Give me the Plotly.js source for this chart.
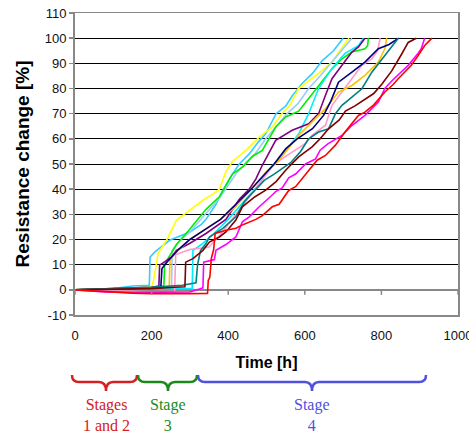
<!DOCTYPE html>
<html><head><meta charset="utf-8">
<script src="https://cdn.plot.ly/plotly-3.0.1.min.js"></script>
<style>html,body{margin:0;padding:0;background:#fff}</style>
</head><body><div id="chart" style="width:469px;height:435px"></div>
<script>
const xTicks=[0,200,400,600,800,1000];
const yTicks=[-10,0,10,20,30,40,50,60,70,80,90,100,110];

const redH=[0,50,100,150,200,250,300,346,348,352,356,362,366,394,420,440,472,489,515,533,558,576,602,619,632,654,680,705,740,757,780,809,830,844,860,878,896,913,932];
const redY=[0,-0.5,-1,-1.3,-1.5,-1.6,-1.5,-1.4,3.8,5,12.5,16,22.4,23.7,24.5,26,28,29.5,33,34,39.5,41,46,49,51.5,53.4,57.5,62.7,69.3,70.6,73.5,78.6,81.5,83.9,86.5,89.2,93.1,97.1,100];
const magentaH=[0,80,150,250,300,325,334,336,364,368,394,420,437,455,481,510,524,541,558,576,602,628,640,660,697,723,757,792,809,827,844,870,896,904,913];
const magentaY=[0,-0.8,-1,-1,-0.8,0.3,0.8,11,12,15.7,18,21,27,29,33,37,39,40.5,44.5,46,50,52,55.5,58,61.4,65.3,69.3,74.6,80,83,85.5,89.2,94,95.8,100];
const brownH=[0,100,200,260,287,289,308,334,351,377,394,420,437,470,498,525,550,584,619,640,662,690,706,730,749,780,801,827,853,870,891];
const brownY=[0,0.2,0.5,1,1.2,11,12.4,15.7,19,21,23,27.7,33,37,39.6,43,47.5,52.8,56.8,60,64,67.5,71,73,75,78,81.7,87,93.7,98.3,100];
const tealH=[0,100,200,280,316,320,328,342,351,386,420,442,470,494,520,545,563,589,610,636,662,680,697,723,749,775,809,835,844];
const tealY=[0,0.5,1,1.8,2.8,10,15.7,18.4,21,24.4,29,35,39.5,43.5,46,48.5,50.5,55,60,62.7,64,70,73.3,76.6,79.9,86.5,93.1,98.4,100];
const navyH=[0,100,200,224,227,240,270,300,340,380,420,460,490,520,550,580,620,649,668,688,723,757,792,820,845];
const navyY=[0,0.3,0.5,0.8,8.5,11,16,20,24,28,34,40,45,50,56,60,64,69.3,75,82.5,86.5,90.5,95.8,97.5,100];
const orangeH=[0,100,200,246,248,265,300,340,380,420,460,500,530,560,584,619,654,688,723,757,792,809,814];
const orangeY=[0,0.3,0.8,1,11.8,15,20,24,28,33,40,47,51,57,61.4,66.7,72,78.6,81.2,85.2,90.5,95.8,100];
const pinkH=[0,100,200,260,263,300,350,380,420,460,490,520,560,600,619,654,671,697,723,749,775,790,797];
const pinkY=[0,-0.5,-0.8,-0.6,14,16,17,22,30,38,44,50,54,58,61.4,65.4,73.3,78.6,83.9,89.2,91.8,95,100];
const purpleH=[0,100,200,219,221,234,252,265,299,342,394,429,455,472,489,524,567,610,636,654,671,697,723,740,757];
const purpleY=[0,0.5,1,1.5,9.8,11.1,13.1,15.7,18.4,22.4,28,36,40,44,49.5,59.4,63.4,66,70,77.3,83.9,89.2,94.5,96.5,100];
const cyanH=[0,100,200,306,308,330,360,400,440,481,502,520,550,584,610,636,671,705,740,753];
const cyanY=[0,0.3,0.5,0.5,15.7,18,22,28,35,42,47,50,55,62,70,80,88,94,97,100];
const greenH=[0,100,200,232,234,245,265,299,342,377,411,440,463,489,524,550,584,610,636,671,697,723,757,764,766];
const greenY=[0,0.5,1,1.5,10,13,18,24,32,37,46,49,53,55.4,64.7,68.7,71,76,81.2,87.8,91.8,94.5,95.8,97,100];
const paleBlueH=[0,100,200,252,254,270,300,340,380,420,442,470,498,526,554,582,610,640,667,695,723];
const paleBlueY=[0,0.3,0.8,1,15.7,19,23,30,37,46,50,54,60,65,70,74,80,85,90,95,100];
const yellowH=[0,100,200,204,210,217,240,265,299,334,360,377,394,411,446,481,515,540,560,584,610,636,671,697,715];
const yellowY=[0,0.3,1,3,8,14.4,20,27.7,31.6,35.6,38,40,47,51,55.4,60.7,64.7,70,73,80,83,86,90.5,96,100];
const skyBlueH=[0,100,150,194,196,208,247,270,300,330,342,368,388,411,429,455,480,498,525,550,567,593,620,645,675,700];
const skyBlueY=[0,0.5,1.5,1.8,13,15,19.7,21,23,26,28,34,40,46,50,54,59,62,70,73,77,82,86,91,95,100];

const series=[
  [skyBlueH,skyBlueY,'#33ccff'],
  [yellowH,yellowY,'#ffff00'],
  [paleBlueH,paleBlueY,'#99ccff'],
  [greenH,greenY,'#00ee00'],
  [cyanH,cyanY,'#00eeff'],
  [purpleH,purpleY,'#800080'],
  [pinkH,pinkY,'#ff99cc'],
  [orangeH,orangeY,'#ffc000'],
  [navyH,navyY,'#000080'],
  [tealH,tealY,'#008080'],
  [brownH,brownY,'#800000'],
  [magentaH,magentaY,'#ff00ff'],
  [redH,redY,'#ff0000']
];
const traces=series.map(s=>({x:s[0],y:s[1],type:'scatter',mode:'lines',line:{color:s[2],width:1.6},hoverinfo:'skip'}));

// pixel -> paper helpers for decorations
const L=75,R=458,T=13,B=315;
const X=px=>(px-L)/(R-L), Y=py=>(B-py)/(B-T);
function brace(x0,x1,xc,color){
  const yTop=375,yMid=382,yTip=391,r=7;
  const p=`M ${X(x0)},${Y(yTop)} Q ${X(x0)},${Y(yMid)} ${X(x0+r)},${Y(yMid)} L ${X(xc-r)},${Y(yMid)} Q ${X(xc)},${Y(yMid)} ${X(xc)},${Y(yTip)} Q ${X(xc)},${Y(yMid)} ${X(xc+r)},${Y(yMid)} L ${X(x1-r)},${Y(yMid)} Q ${X(x1)},${Y(yMid)} ${X(x1)},${Y(yTop)}`;
  return {type:'path',xref:'paper',yref:'paper',path:p,line:{color:color,width:2.5}};
}
const stageRed='#d42020',stageGreen='#1b8a1b',stageBlue='#5050dd';
const shapes=[
  brace(72,137,106,stageRed),
  brace(138,197,168,stageGreen),
  brace(198,426,312,stageBlue)
];
xTicks.forEach(t=>shapes.push({type:'line',xref:'x',yref:'y',x0:t,x1:t,y0:0,y1:-2,line:{color:'#888',width:1.5}}));

const serif='Liberation Serif, Times New Roman, serif';
const annotations=[
  {xref:'paper',yref:'paper',x:X(106),y:Y(415),xanchor:'center',yanchor:'middle',text:'Stages<br>1 and 2',showarrow:false,font:{family:serif,size:16,color:stageRed}},
  {xref:'paper',yref:'paper',x:X(168),y:Y(415),xanchor:'center',yanchor:'middle',text:'Stage<br>3',showarrow:false,font:{family:serif,size:16,color:stageGreen}},
  {xref:'paper',yref:'paper',x:X(312),y:Y(415),xanchor:'center',yanchor:'middle',text:'Stage<br>4',showarrow:false,font:{family:serif,size:16,color:stageBlue}}
];

const sans='Liberation Sans, Arial, sans-serif';
const layout={
  width:469,height:435,
  margin:{l:L,r:469-R,t:T,b:435-B},
  paper_bgcolor:'#fff',plot_bgcolor:'#fff',
  showlegend:false,
  xaxis:{range:[0,1000],tickvals:xTicks,ticktext:xTicks.map(String),ticks:'',showgrid:false,zeroline:false,
    showline:true,mirror:true,linecolor:'#888',linewidth:1.5,ticklabeloverflow:'allow',
    tickfont:{family:sans,size:13,color:'#111'},ticklabelstandoff:8,
    title:{text:'<b>Time [h]</b>',font:{family:sans,size:16,color:'#000'},standoff:14}},
  yaxis:{range:[-10,110],tickvals:yTicks,ticktext:yTicks.map(String),ticks:'outside',ticklen:4,tickcolor:'#888',tickwidth:1.5,
    showgrid:true,gridcolor:'#000',gridwidth:1,zeroline:true,zerolinecolor:'#888',zerolinewidth:2,
    showline:true,mirror:true,linecolor:'#888',linewidth:2,
    tickfont:{family:sans,size:13,color:'#111'},
    title:{text:'<b>Resistance change [%]</b>',font:{family:sans,size:19,color:'#000'},standoff:10}},
  shapes:shapes,annotations:annotations
};
Plotly.newPlot('chart',traces,layout,{staticPlot:true,displayModeBar:false});
</script></body></html>
